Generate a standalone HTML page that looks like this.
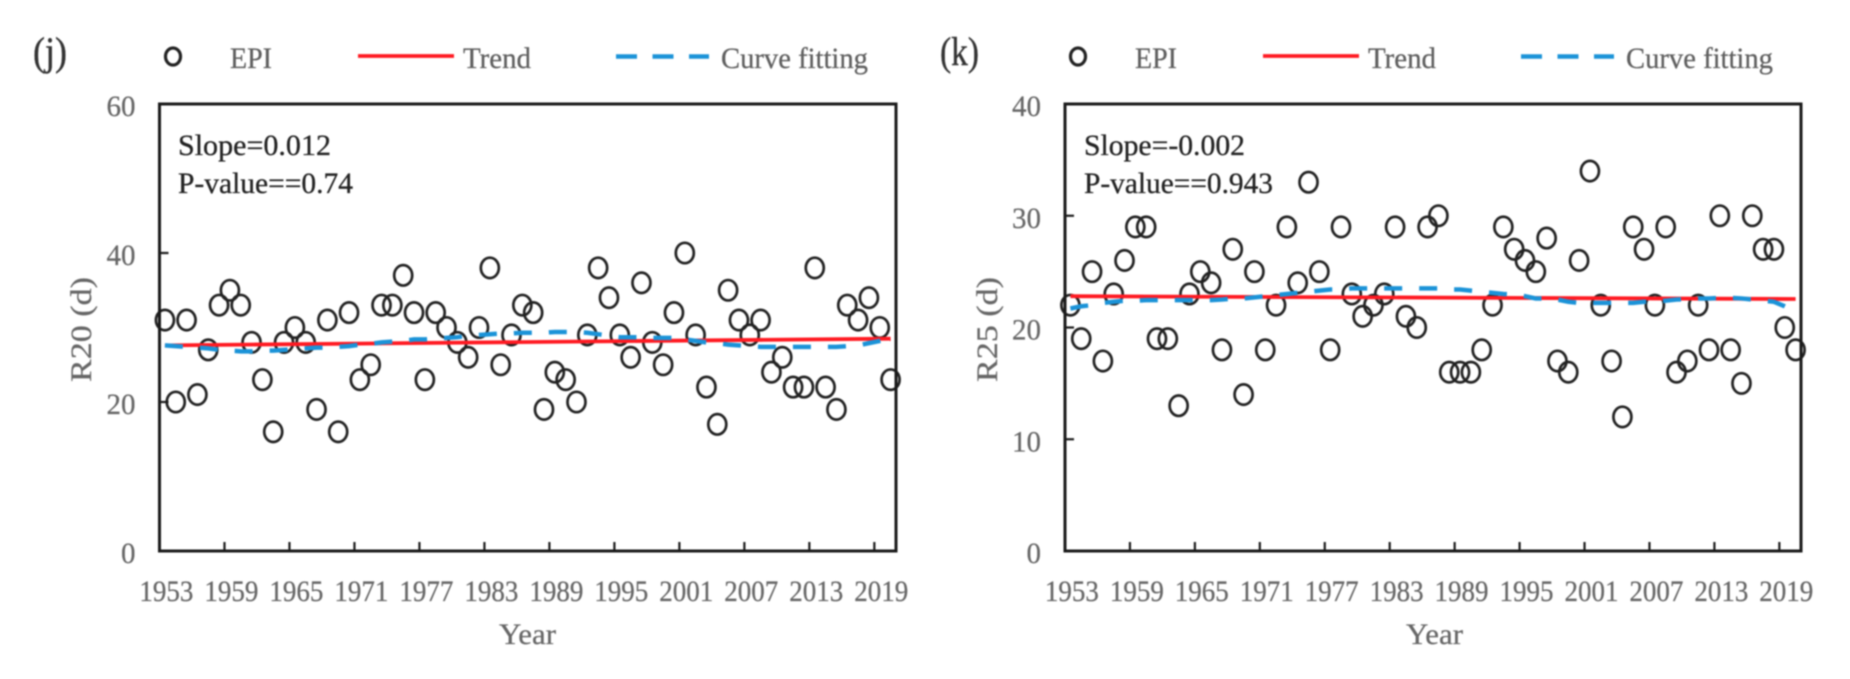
<!DOCTYPE html>
<html lang="en">
<head>
<meta charset="utf-8">
<title>R20 and R25 EPI trends</title>
<style>
html,body{margin:0;padding:0;background:#fff;width:1850px;height:679px;overflow:hidden}
svg{display:block;filter:blur(0.7px);font-family:"Liberation Serif",serif}
.tick{fill:#666;font-size:30px;stroke:#666;stroke-width:.25px}
.legend{fill:#5e5e5e;font-size:30px;stroke:#5e5e5e;stroke-width:.25px}
.note{fill:#222;font-size:30px;stroke:#222;stroke-width:.3px}
.panel{fill:#333;font-size:40px;stroke:#333;stroke-width:.4px}
</style>
</head>
<body>
<svg id="chart" xmlns="http://www.w3.org/2000/svg" width="1850" height="679" viewBox="0 0 1850 679">
  <rect width="1850" height="679" fill="#fff"/>
  <g id="panel-j">
    <text class="panel" x="33" y="65" textLength="34" lengthAdjust="spacingAndGlyphs">(j)</text>
    <ellipse cx="173" cy="56.5" rx="7.5" ry="8.5" fill="none" stroke="#222" stroke-width="3.2"/>
    <text class="legend" x="230" y="68" textLength="42" lengthAdjust="spacingAndGlyphs">EPI</text>
    <line x1="358" y1="56" x2="454" y2="56" stroke="#ff1a22" stroke-width="3.8"/>
    <text class="legend" x="463" y="68" textLength="68" lengthAdjust="spacingAndGlyphs">Trend</text>
    <line x1="616" y1="56.5" x2="709" y2="56.5" stroke="#1b93d8" stroke-width="4.5" stroke-dasharray="21 15.5"/>
    <text class="legend" x="721" y="68" textLength="147" lengthAdjust="spacingAndGlyphs">Curve fitting</text>
    <text class="note" x="178" y="155" textLength="153" lengthAdjust="spacingAndGlyphs">Slope=0.012</text>
    <text class="note" x="178" y="193" textLength="175" lengthAdjust="spacingAndGlyphs">P-value==0.74</text>
    <text class="tick" transform="translate(91,382) rotate(-90)" textLength="105" lengthAdjust="spacingAndGlyphs">R20 (d)</text>
    <text class="tick" x="499" y="644" textLength="57" lengthAdjust="spacingAndGlyphs">Year</text>
  </g>
  <g id="panel-k">
    <text class="panel" x="940" y="65" textLength="39" lengthAdjust="spacingAndGlyphs">(k)</text>
    <ellipse cx="1078" cy="56.5" rx="7.5" ry="8.5" fill="none" stroke="#222" stroke-width="3.2"/>
    <text class="legend" x="1135" y="68" textLength="42" lengthAdjust="spacingAndGlyphs">EPI</text>
    <line x1="1263" y1="56" x2="1359" y2="56" stroke="#ff1a22" stroke-width="3.8"/>
    <text class="legend" x="1368" y="68" textLength="68" lengthAdjust="spacingAndGlyphs">Trend</text>
    <line x1="1521" y1="56.5" x2="1614" y2="56.5" stroke="#1b93d8" stroke-width="4.5" stroke-dasharray="21 15.5"/>
    <text class="legend" x="1626" y="68" textLength="147" lengthAdjust="spacingAndGlyphs">Curve fitting</text>
    <text class="note" x="1084" y="155" textLength="161" lengthAdjust="spacingAndGlyphs">Slope=-0.002</text>
    <text class="note" x="1084" y="193" textLength="189" lengthAdjust="spacingAndGlyphs">P-value==0.943</text>
    <text class="tick" transform="translate(997,382) rotate(-90)" textLength="105" lengthAdjust="spacingAndGlyphs">R25 (d)</text>
    <text class="tick" x="1406" y="644" textLength="57" lengthAdjust="spacingAndGlyphs">Year</text>
  </g>
</svg>
<script>
var years = [1953,1954,1955,1956,1957,1958,1959,1960,1961,1962,1963,1964,1965,1966,1967,1968,1969,1970,1971,1972,1973,1974,1975,1976,1977,1978,1979,1980,1981,1982,1983,1984,1985,1986,1987,1988,1989,1990,1991,1992,1993,1994,1995,1996,1997,1998,1999,2000,2001,2002,2003,2004,2005,2006,2007,2008,2009,2010,2011,2012,2013,2014,2015,2016,2017,2018,2019,2020];
var xTickYears = [1953,1959,1965,1971,1977,1983,1989,1995,2001,2007,2013,2019];

var r20Values = [31,20,31,21,27,33,35,33,28,23,16,28,30,28,19,31,16,32,23,25,33,33,37,32,23,32,30,28,26,30,38,25,29,33,32,19,24,23,20,29,38,34,29,26,36,28,25,32,40,29,22,17,35,31,29,31,24,26,22,22,38,22,19,33,31,34,30,23];
var r20Curve = [27.6,27.5,27.4,27.3,27.2,27.0,26.9,26.8,26.8,26.9,26.9,27.0,27.1,27.2,27.3,27.3,27.4,27.5,27.7,27.8,28.0,28.1,28.2,28.4,28.4,28.5,28.6,28.7,28.9,29.0,29.1,29.2,29.2,29.3,29.3,29.3,29.4,29.4,29.4,29.3,29.1,28.9,28.7,28.7,28.7,28.6,28.6,28.6,28.4,28.2,28.0,27.9,27.7,27.6,27.5,27.4,27.4,27.4,27.4,27.4,27.4,27.4,27.4,27.5,27.6,27.9,28.2,28.5];
var r20Trend = [27.6,28.5];
var r20YTicks = [0,20,40,60];

var r25Values = [22,19,25,17,23,26,29,29,19,19,13,23,25,24,18,27,14,25,18,22,29,24,33,25,18,29,23,21,22,23,29,21,20,29,30,16,16,16,18,22,29,27,26,25,28,17,16,26,34,22,17,12,29,27,22,29,16,17,22,18,30,18,15,30,27,27,20,18];
var r25Curve = [21.7,21.9,22.0,22.2,22.3,22.4,22.4,22.45,22.45,22.45,22.45,22.45,22.45,22.45,22.5,22.6,22.6,22.7,22.8,22.9,23.0,23.1,23.2,23.3,23.4,23.4,23.5,23.5,23.5,23.5,23.5,23.5,23.5,23.5,23.5,23.4,23.4,23.3,23.2,23.1,23.0,22.95,22.8,22.6,22.6,22.5,22.3,22.2,22.2,22.2,22.2,22.2,22.2,22.3,22.3,22.4,22.5,22.55,22.6,22.6,22.65,22.65,22.6,22.5,22.4,22.3,21.9,21.4];
var r25Trend = [22.8,22.55];
var r25YTicks = [0,10,20,30,40];

var SVG_NS = 'http://www.w3.org/2000/svg';

function make(parent, tag, attrs, text) {
  var el = document.createElementNS(SVG_NS, tag);
  for (var k in attrs) el.setAttribute(k, attrs[k]);
  if (text !== undefined) el.textContent = text;
  parent.appendChild(el);
  return el;
}

function drawPanel(groupId, left, right, yMax, values, curve, trend, yTicks) {
  var top = 104, bottom = 551;
  var group = document.getElementById(groupId);
  var band = (right - left) / years.length;
  function xBand(i) { return left + band * (i + 0.5); }
  function yScale(v) { return bottom - (v / yMax) * (bottom - top); }

  // series: circles, then trend, then dashed curve
  for (var i = 0; i < values.length; i++) {
    var point = make(group, 'ellipse', {cx: xBand(i).toFixed(2), cy: yScale(values[i]).toFixed(2), rx: 9, ry: 10.2, fill: 'none', stroke: '#222', 'stroke-width': 2.7});
    
    
  }

  var trendLine = make(group, 'line', {x1: xBand(0), y1: yScale(trend[0]), x2: xBand(years.length - 1), y2: yScale(trend[1]), stroke: '#ff1a22', 'stroke-width': 3.8});
  
  

  var pts = [];
  for (var c = 0; c < curve.length; c++) {
    pts.push(xBand(c).toFixed(2) + ',' + yScale(curve[c]).toFixed(2));
  }
  var curveLine = make(group, 'polyline', {points: pts.join(' '), fill: 'none', stroke: '#1b93d8', 'stroke-width': 4.5, 'stroke-dasharray': '18 17'});
  
  

  // frame
  var frame = make(group, 'rect', {x: left, y: top, width: right - left, height: bottom - top, fill: 'none', stroke: '#1a1a1a', 'stroke-width': 3});
  
  

  // y ticks
  yTicks.forEach(function (t) {
    var y = yScale(t);
    var mark = make(group, 'line', {x1: left, y1: y, x2: left + 9, y2: y, stroke: '#1a1a1a', 'stroke-width': 2.2});
    
    
    var text = String(t);
    var label = make(group, 'text', {'class': 'tick', x: left - 24 - text.length * 14.5, y: y + 12, textLength: text.length * 14.5, lengthAdjust: 'spacingAndGlyphs'}, text);
    
    
  });

  // x ticks
  xTickYears.forEach(function (yr) {
    var idx = years.indexOf(yr);
    var tx = left + band * idx;
    if (idx > 0) {
      var mark = make(group, 'line', {x1: tx, y1: bottom, x2: tx, y2: bottom - 9, stroke: '#1a1a1a', 'stroke-width': 2.2});
      
      
    }
    var label = make(group, 'text', {'class': 'tick', x: (xBand(idx) - 25.5).toFixed(2), y: 601, textLength: 54, lengthAdjust: 'spacingAndGlyphs'}, String(yr));
    
    
  });
}

drawPanel('panel-j', 159.5, 896, 60, r20Values, r20Curve, r20Trend, r20YTicks);
drawPanel('panel-k', 1065, 1801, 40, r25Values, r25Curve, r25Trend, r25YTicks);
</script>
</body>
</html>
